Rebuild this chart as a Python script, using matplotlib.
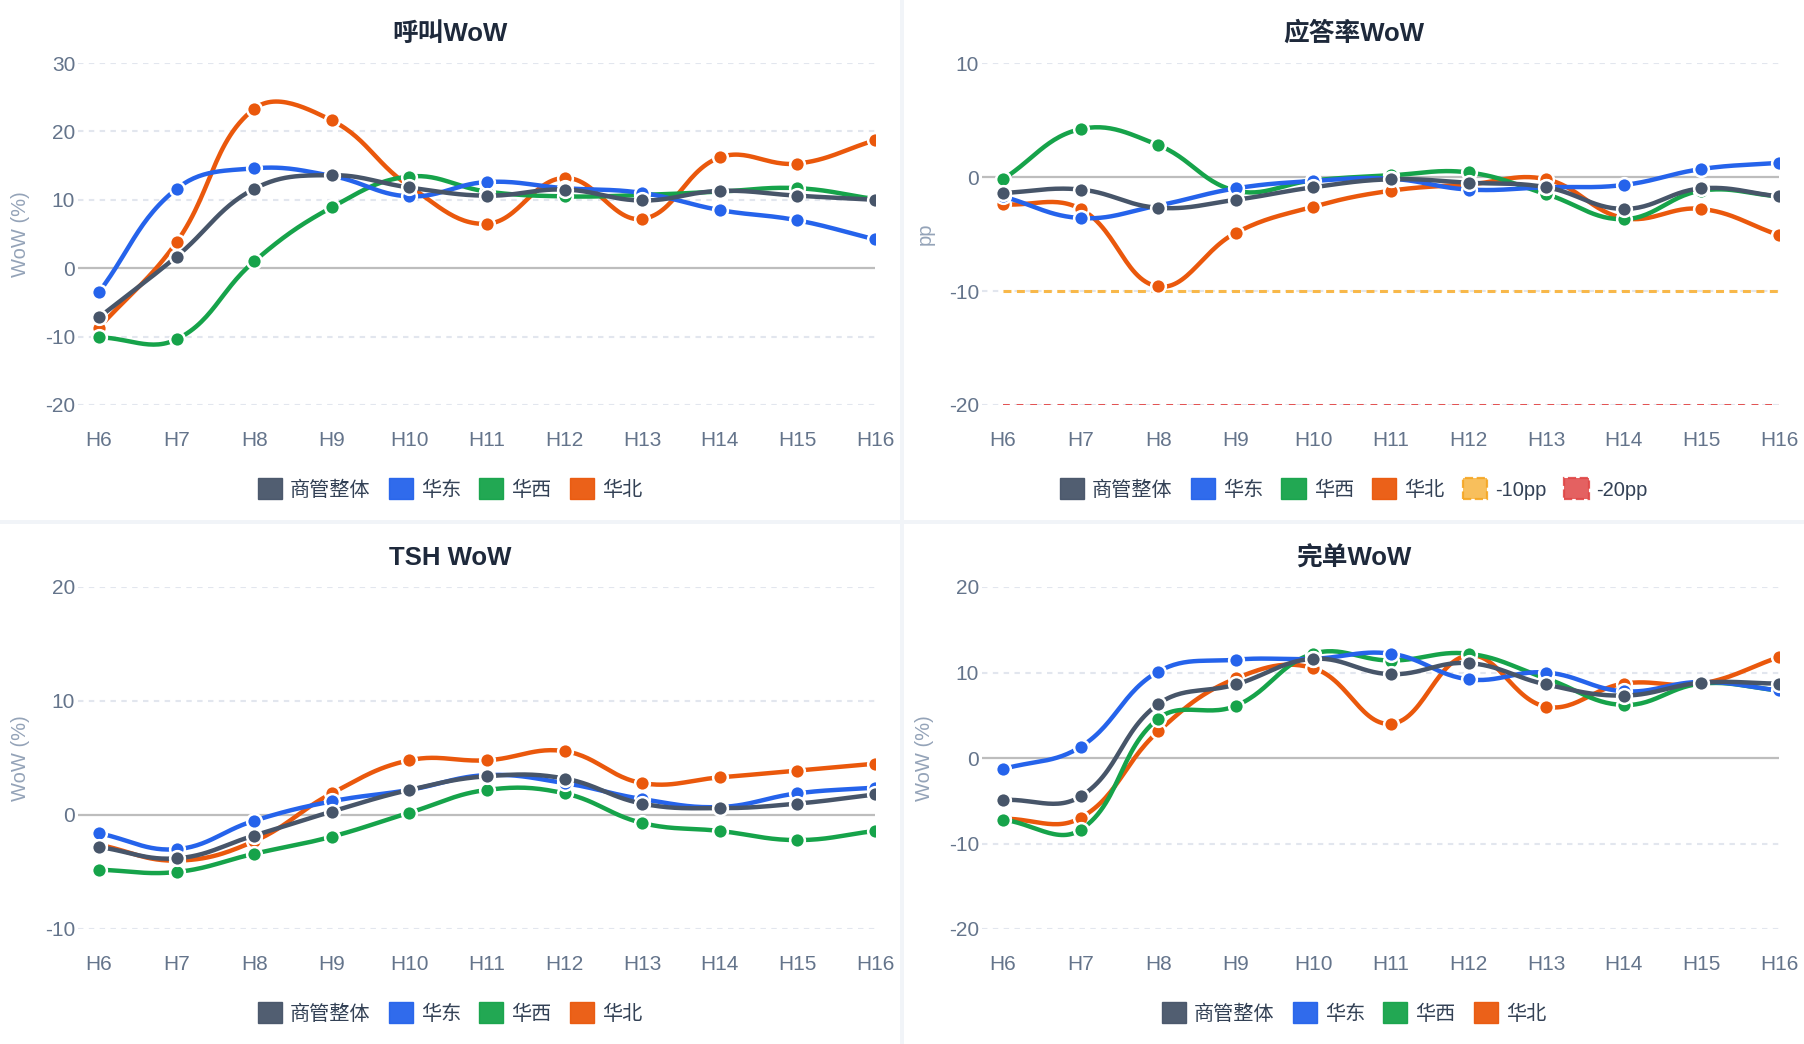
import numpy as np
import matplotlib.pyplot as plt
from matplotlib.patches import Rectangle

plt.rcParams['font.family'] = ['Liberation Sans', 'Noto Sans CJK SC']

hours = ['H6', 'H7', 'H8', 'H9', 'H10', 'H11', 'H12', 'H13', 'H14', 'H15', 'H16']
series_names = ['商管整体', '华东', '华西', '华北']
series_colors = ['#475569', '#2563eb', '#16a34a', '#ea580c']

# 呼叫WoW
call_total = [-7.2, 1.7, 11.6, 13.6, 11.8, 10.6, 11.5, 9.9, 11.3, 10.6, 10.0]
call_east = [-3.5, 11.6, 14.6, 13.5, 10.5, 12.6, 11.7, 11.0, 8.5, 7.0, 4.2]
call_west = [-10.1, -10.4, 1.0, 8.9, 13.4, 11.2, 10.5, 10.7, 11.2, 11.7, 10.1]
call_north = [-8.7, 3.8, 23.3, 21.6, 12.0, 6.5, 13.2, 7.2, 16.2, 15.3, 18.7]

# 应答率WoW (pp)
ans_total = [-1.4, -1.1, -2.7, -2.0, -0.9, -0.2, -0.5, -0.9, -2.8, -1.0, -1.7]
ans_east = [-1.7, -3.6, -2.5, -1.0, -0.35, -0.15, -1.1, -0.9, -0.7, 0.7, 1.25]
ans_west = [-0.2, 4.2, 2.8, -1.2, -0.3, 0.15, 0.4, -1.5, -3.7, -1.2, -1.7]
ans_north = [-2.4, -2.8, -9.6, -4.9, -2.6, -1.2, -0.65, -0.2, -3.6, -2.8, -5.1]
thresholds = [-10, -20]
threshold_names = ['-10pp', '-20pp']

# TSH WoW
tsh_total = [-2.8, -3.8, -1.8, 0.3, 2.2, 3.4, 3.2, 1.0, 0.6, 1.0, 1.8]
tsh_east = [-1.6, -3.0, -0.5, 1.2, 2.2, 3.5, 2.8, 1.4, 0.7, 1.9, 2.4]
tsh_west = [-4.8, -5.0, -3.4, -1.9, 0.2, 2.2, 1.9, -0.7, -1.4, -2.2, -1.4]
tsh_north = [-2.6, -4.0, -2.3, 1.9, 4.8, 4.8, 5.6, 2.8, 3.3, 3.9, 4.5]

# 完单WoW
done_total = [-4.9, -4.5, 6.3, 8.6, 11.6, 9.8, 11.1, 8.6, 7.3, 8.8, 8.7]
done_east = [-1.3, 1.3, 10.1, 11.5, 11.6, 12.2, 9.2, 10.0, 7.8, 8.9, 7.9]
done_west = [-7.2, -8.4, 4.6, 6.1, 12.2, 11.4, 12.2, 9.3, 6.2, 8.7, 7.9]
done_north = [-7.1, -7.0, 3.1, 9.3, 10.5, 4.0, 12.0, 6.0, 8.7, 8.7, 11.8]

W, H = 1804, 1044
fig = plt.figure(figsize=(W / 100, H / 100), dpi=100)
fig.patch.set_facecolor('#f1f4f8')

def fx(px):
    return px / W

def fy(py):
    return 1 - py / H

# white panels
panels = [(0, 0, 900, 520), (904, 0, 1804, 520), (0, 524, 900, 1044), (904, 524, 1804, 1044)]
for x0, y0, x1, y1 in panels:
    fig.add_artist(Rectangle((fx(x0), fy(y1)), fx(x1 - x0), (y1 - y0) / H,
                             transform=fig.transFigure, facecolor='white',
                             edgecolor='none', zorder=-10))


def smooth_line(ax, xs, ys, tension=0.4, n=30):
    # spline like chart.js (control points in pixel space)
    pts = ax.transData.transform(np.column_stack([xs, ys]))
    m = len(pts)
    cin = np.zeros_like(pts)
    cout = np.zeros_like(pts)
    for i in range(m):
        prev = pts[max(i - 1, 0)]
        cur = pts[i]
        nxt = pts[min(i + 1, m - 1)]
        d01 = np.hypot(*(cur - prev))
        d12 = np.hypot(*(nxt - cur))
        tot = d01 + d12
        s01 = d01 / tot if tot else 0
        s12 = d12 / tot if tot else 0
        cin[i] = cur - tension * s01 * (nxt - prev)
        cout[i] = cur + tension * s12 * (nxt - prev)
    t = np.linspace(0, 1, n)[1:, None]
    out = [pts[0]]
    for i in range(1, m):
        p0, c1, c2, p1 = pts[i - 1], cout[i - 1], cin[i], pts[i]
        seg = ((1 - t) ** 3) * p0 + 3 * ((1 - t) ** 2) * t * c1 + 3 * (1 - t) * t ** 2 * c2 + t ** 3 * p1
        out.extend(seg)
    data = ax.transData.inverted().transform(np.array(out))
    return data[:, 0], data[:, 1]


def make_panel(box, title, ylim, yticks, ylabel, series, extra=None):
    left, top, right, bottom, px0, px1 = box
    ax = fig.add_axes([fx(left), fy(bottom), fx(right - left), (bottom - top) / H])
    ax.set_facecolor('none')
    x = np.arange(len(hours))
    ax.set_xlim(-0.27, len(hours) - 1)
    ax.set_ylim(*ylim)
    for s in ax.spines.values():
        s.set_visible(False)
    ax.set_yticks(yticks)
    ax.set_yticklabels([str(v) for v in yticks])
    ax.set_xticks(x)
    ax.set_xticklabels(hours)
    ax.tick_params(axis='both', length=0, labelsize=15, colors='#64748b')
    ax.tick_params(axis='y', pad=2)
    ax.tick_params(axis='x', pad=19)
    for v in yticks:
        if v == 0:
            ax.axhline(0, color='#bdbdbd', lw=1.6, zorder=1)
        else:
            ax.axhline(v, color='#e2e6ee', lw=1.5, dashes=(2.6, 2.6), zorder=1)

    # first series is drawn on top
    for k in range(len(series) - 1, -1, -1):
        ys = series[k]
        sx, sy = smooth_line(ax, x, ys)
        z = 10 - 2 * k
        ax.plot(sx, sy, color=series_colors[k], lw=3.2, solid_capstyle='round', zorder=z)
        ax.plot(x, ys, 'o', color=series_colors[k], ms=10.6, mec='white', mew=1.8, zorder=z + 0.5)

    handles = []
    labels = []
    for k in range(len(series)):
        handles.append(Rectangle((0, 0), 1, 1, facecolor=series_colors[k],
                                 edgecolor=series_colors[k], alpha=0.95, lw=1))
        labels.append(series_names[k])

    if extra is not None:
        cols = ['#f8b84a', '#e25050']
        edges = ['#f5a623', '#e04848']
        widths = [2.2, 1.4]
        dashes = [(2.6, 1.8), (3.5, 3.5)]
        for val, name, c, ec, w, d in zip(extra[0], extra[1], cols, edges, widths, dashes):
            ax.plot([x[0], x[-1]], [val, val], color=c, lw=w, dashes=d, zorder=2)
            handles.append(Rectangle((0, 0), 1, 1, facecolor=c, edgecolor=ec,
                                     lw=1.6, ls='--', alpha=0.9))
            labels.append(name)

    cx = (px0 + px1) / 2
    fig.text(fx(cx), fy(top - 29), title, ha='center', va='center',
             fontsize=18.5, fontweight='bold', color='#1e293b')
    fig.text(fx(px0 + 21), fy((top + bottom) / 2), ylabel, rotation=90,
             ha='center', va='center', fontsize=14.5, color='#94a3b8')
    fig.legend(handles, labels, loc='center', bbox_to_anchor=(fx(cx), fy(bottom + 84)),
               ncol=len(handles), frameon=False, fontsize=14.5, labelcolor='#334155',
               handlelength=1.2, handleheight=1.2, handletextpad=0.4, columnspacing=0.9)
    return ax


make_panel((78, 63, 875, 405, 0, 900), '呼叫WoW', (-20, 30), [-20, -10, 0, 10, 20, 30], 'WoW (%)',
           [call_total, call_east, call_west, call_north])
make_panel((982, 63, 1779, 405, 904, 1804), '应答率WoW', (-20, 10), [-20, -10, 0, 10], 'pp',
           [ans_total, ans_east, ans_west, ans_north], extra=(thresholds, threshold_names))
make_panel((78, 587, 875, 929, 0, 900), 'TSH WoW', (-10, 20), [-10, 0, 10, 20], 'WoW (%)',
           [tsh_total, tsh_east, tsh_west, tsh_north])
make_panel((982, 587, 1779, 929, 904, 1804), '完单WoW', (-20, 20), [-20, -10, 0, 10, 20], 'WoW (%)',
           [done_total, done_east, done_west, done_north])

fig.savefig('out.png', dpi=100, facecolor=fig.get_facecolor())
